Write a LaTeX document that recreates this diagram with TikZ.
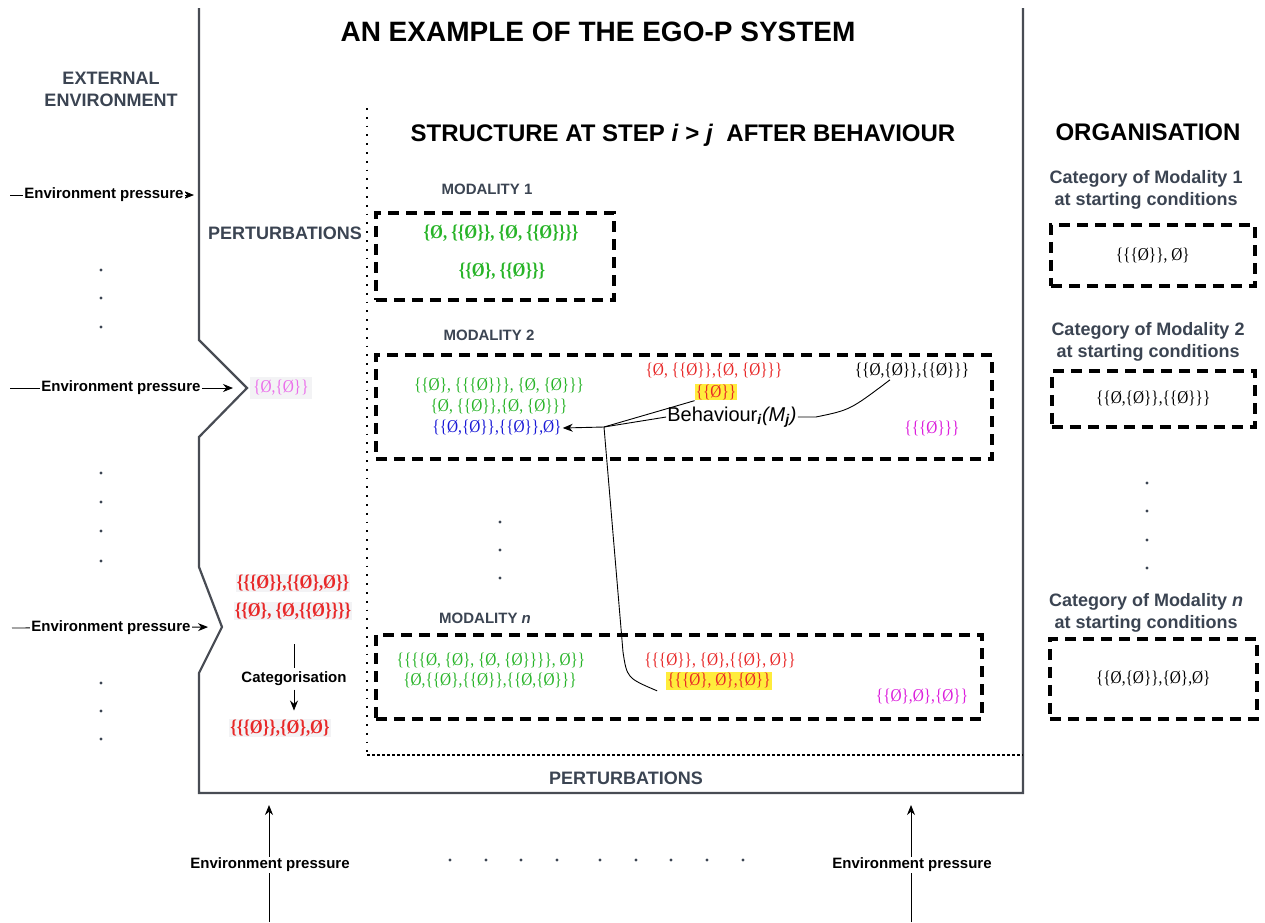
\documentclass[tikz,border=0pt]{standalone}
\usepackage{fontspec}
\setmainfont{Liberation Sans}
\newfontfamily\setsfont[FakeStretch=0.85]{Liberation Serif}
\usetikzlibrary{arrows.meta}

\definecolor{slate}{RGB}{59,68,82}
\definecolor{setgreen}{RGB}{40,180,40}
\definecolor{setred}{RGB}{232,40,40}
\definecolor{setblue}{RGB}{25,25,215}
\definecolor{setmag}{RGB}{220,30,220}
\definecolor{softmag}{RGB}{235,110,235}
\definecolor{hilite}{RGB}{255,236,60}
\definecolor{framegray}{RGB}{72,76,84}
\definecolor{paleback}{RGB}{243,243,245}

\newcommand{\fsz}[2]{\fontsize{#1}{#2}\selectfont}

\tikzset{
  heading/.style={font=\bfseries\fsz{24}{28}},
  grayhead/.style={font=\bfseries\fsz{18}{22}, text=slate, align=center},
  modlabel/.style={font=\bfseries\fsz{15}{18}, text=slate},
  sets/.style={font=\setsfont\fsz{18}{20}, inner sep=1pt},
  boldsets/.style={font=\setsfont\bfseries\fsz{19.5}{21}, inner sep=1pt},
  modbox/.style={draw, line width=3.5pt, dash pattern=on 11pt off 7pt, anchor=north west, inner sep=0pt},
  envtext/.style={font=\bfseries\fsz{15}{18}, fill=white, inner sep=1pt},
  pressure/.style={line width=0.9pt, -{Stealth[length=10pt,width=8pt]}},
  link/.style={line width=0.9pt},
  smalldot/.style={fill=slate}
}

\begin{document}
\begin{tikzpicture}[x=1pt, y=-1pt]
    \fill[white] (0,0) rectangle (1265,922);
    \useasboundingbox (0,0) rectangle (1265,922);

    % System frame with the two perturbation notches
    \coordinate (notchA) at (247,388);
    \coordinate (notchB) at (222,627);
    \draw[framegray, line width=2.2pt] (199,8) -- (199,340) -- (notchA) -- (199,437)
        -- (199,567) -- (notchB) -- (199,673) -- (199,793) -- (1023,793) -- (1023,8);

    % Structure boundary
    \draw[line width=2pt, dash pattern=on 1.8pt off 7pt] (367,108) -- (367,755);
    \draw[line width=1.3pt, dash pattern=on 3pt off 2pt] (367,755) -- (1023,755);

    % Headings
    \node[font=\bfseries\fsz{28}{32}] (title) at (598,32) {AN EXAMPLE OF THE EGO-P SYSTEM};
    \node[grayhead] (extenv) at (111,89) {EXTERNAL\\ENVIRONMENT};
    \node[heading] (struct) at (683,135) {STRUCTURE AT STEP \textit{i} > \textit{j}\ \ AFTER BEHAVIOUR};
    \node[heading] (organis) at (1148,132) {ORGANISATION};
    \node[grayhead] (perturbL) at (285,233) {PERTURBATIONS};
    \node[grayhead] (perturbB) at (626,778) {PERTURBATIONS};

    % External environment pressures
    \coordinate (envA) at (10,195);
    \coordinate (envAtip) at (194,195);
    \draw[pressure] (envA) -- (envAtip);
    \node[envtext] (envAtxt) at (104,195) {Environment pressure};
    \coordinate (envB) at (10,388);
    \draw[pressure, shorten >=14pt] (envB) -- (notchA);
    \node[envtext] (envBtxt) at (121,388) {Environment pressure};
    \coordinate (envC) at (12,628);
    \draw[pressure, shorten >=14pt] (envC) -- (notchB);
    \node[envtext] (envCtxt) at (111,628) {Environment pressure};

    \foreach \y in {270,298,327,473,502,531,561,683,711,739}
        \fill[smalldot] (101,\y) circle (1.7pt);

    % Perturbations
    \node[sets, text=softmag, fill=paleback, inner sep=3pt] (magL) at (281,388) {\{Ø,\{Ø\}\}};
    \node[boldsets, text=setred, fill=paleback] (redL1) at (293,583) {\{\{\{Ø\}\},\{\{Ø\},Ø\}\}};
    \node[boldsets, text=setred, fill=paleback] (redL2) at (293,611) {\{\{Ø\}, \{Ø,\{\{Ø\}\}\}\}};
    \node[font=\bfseries\fsz{15}{18}] (catg) at (294,679) {Categorisation};
    \node[boldsets, text=setred, fill=paleback] (redL3) at (280,728) {\{\{\{Ø\}\},\{Ø\},Ø\}};
    \draw[link, shorten <=24pt] (catg.north |- redL2.south) -- (catg.north);
    \draw[pressure, shorten >=8pt] (catg.south) -- (catg.south |- redL3.north);

    % Modality 1
    \node[modlabel] (mod1lbl) at (487,189) {MODALITY 1};
    \node[modbox, minimum width=238pt, minimum height=87pt] (mod1) at (374,211) {};
    \node[boldsets, text=setgreen] (g11) at (501,233) {\{Ø, \{\{Ø\}\}, \{Ø, \{\{Ø\}\}\}\}};
    \node[boldsets, text=setgreen] (g12) at (502,271) {\{\{Ø\}, \{\{Ø\}\}\}};

    % Modality 2
    \node[modlabel] (mod2lbl) at (489,335) {MODALITY 2};
    \node[modbox, minimum width=616pt, minimum height=104pt] (mod2) at (374,353) {};
    \node[sets, text=setgreen] (g21) at (499,386) {\{\{Ø\}, \{\{\{Ø\}\}\}, \{Ø, \{Ø\}\}\}};
    \node[sets, text=setgreen] (g22) at (499,407) {\{Ø, \{\{Ø\}\},\{Ø, \{Ø\}\}\}};
    \node[sets, text=setblue] (blue) at (497,428) {\{\{Ø,\{Ø\}\},\{\{Ø\}\},Ø\}};
    \node[sets, text=setred] (red21) at (714,371) {\{Ø, \{\{Ø\}\},\{Ø, \{Ø\}\}\}};
    \node[sets, text=setred, fill=hilite] (yel21) at (716,392) {\{\{Ø\}\}};
    \node[font=\fsz{20}{24}, inner sep=1pt] (beh) at (732,417)
        {Behaviour\textsubscript{\textbf{\textit{i}}}\textit{(M}\textsubscript{\textbf{\textit{j}}}\textit{)}};
    \node[sets] (blk) at (912,371) {\{\{Ø,\{Ø\}\},\{\{Ø\}\}\}};
    \node[sets, text=setmag] (mag21) at (932,428) {\{\{\{Ø\}\}\}};

    % Behaviour links
    \coordinate (junc) at (604,427);
    \coordinate (bend) at (623,652);
    \draw[link] (yel21.south west) -- (junc);
    \draw[pressure] (beh.west) -- (junc) -- (blue.east);
    \draw[link] (beh.east) -- ++(18,0) .. controls (850,410) .. ([xshift=-22pt]blk.south);

    \foreach \y in {522,550,578}
        \fill[smalldot] (500,\y) circle (1.7pt);

    % Modality n
    \node[modlabel] (modnlbl) at (485,618) {MODALITY \textit{n}};
    \node[modbox, minimum width=606pt, minimum height=84pt] (modn) at (374,633) {};
    \node[sets, text=setgreen] (gn1) at (491,661) {\{\{\{\{Ø, \{Ø\}, \{Ø, \{Ø\}\}\}\}, Ø\}\}};
    \node[sets, text=setgreen] (gn2) at (490,681) {\{Ø,\{\{Ø\},\{\{Ø\}\},\{\{Ø,\{Ø\}\}\}};
    \node[sets, text=setred] (redn) at (720,661) {\{\{\{Ø\}\}, \{Ø\},\{\{Ø\}, Ø\}\}};
    \node[sets, text=setred, fill=hilite] (yeln) at (719,681) {\{\{\{Ø\}, Ø\},\{Ø\}\}};
    \node[sets, text=setmag] (magn) at (922,697) {\{\{Ø\},Ø\},\{Ø\}\}};
    \draw[link] (junc) -- (bend) .. controls (627,678) .. ([xshift=-9pt,yshift=-1pt]yeln.south west);

    % Organisation
    \node[grayhead] (cat1) at (1146,190) {Category of Modality 1\\at starting conditions};
    \node[modbox, minimum width=204pt, minimum height=61pt] (org1) at (1049,223) {};
    \node[sets] (org1set) at (org1.center) {\{\{\{Ø\}\}, Ø\}};
    \node[grayhead] (cat2) at (1148,342) {Category of Modality 2\\at starting conditions};
    \node[modbox, minimum width=203pt, minimum height=56pt] (org2) at (1050,369) {};
    \node[sets] (org2set) at (org2.center) {\{\{Ø,\{Ø\}\},\{\{Ø\}\}\}};
    \foreach \y in {483,511,540,568}
        \fill[smalldot] (1147,\y) circle (1.7pt);
    \node[grayhead] (catn) at (1146,613) {Category of Modality \textit{n}\\at starting conditions};
    \node[modbox, minimum width=207pt, minimum height=80pt] (orgn) at (1048,637) {};
    \node[sets] (orgnset) at (orgn.center) {\{\{Ø,\{Ø\}\},\{Ø\},Ø\}};

    % Pressures from below
    \coordinate (botA) at (269,922);
    \coordinate (botAtip) at (269,805);
    \draw[pressure] (botA) -- (botAtip);
    \node[envtext] (botAtxt) at (270,865) {Environment pressure};
    \coordinate (botB) at (911,922);
    \coordinate (botBtip) at (911,805);
    \draw[pressure] (botB) -- (botBtip);
    \node[envtext] (botBtxt) at (912,865) {Environment pressure};
    \foreach \x in {450,486,521,557,600,636,671,707,743}
        \fill[smalldot] (\x,860) circle (1.6pt);
\end{tikzpicture}
\end{document}
